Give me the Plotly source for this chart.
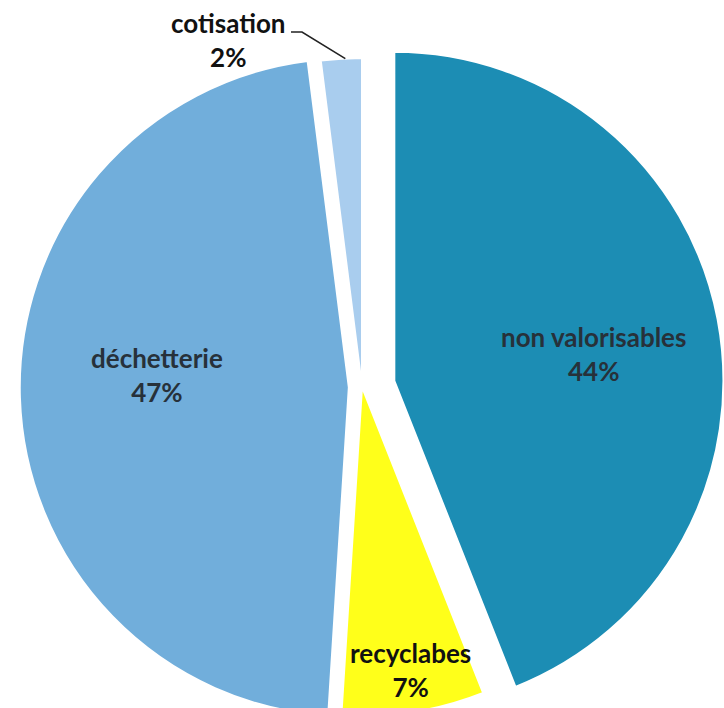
import numpy as np
import plotly.graph_objects as go

# ---- data ----
labels = ["non valorisables", "recyclabes", "déchetterie", "cotisation"]
values = [44, 7, 47, 2]
colors = ["#1C8DB4", "#FFFF1A", "#71AEDB", "#A9CDEE"]
pulls = [0.10, 0.0, 0.04, 0.0]
text_colors = ["#27313a", "#111111", "#27313a", "#111111"]
# label block centres in px (layout)
label_px = [(593, 354), (410, 670), (157, 375), None]

W, H = 724, 760
D = 724            # pie box size in px
TOP = 25           # pie box top in px
FONT = "Lato, Carlito, sans-serif"

fig = go.Figure()
fig.add_trace(go.Pie(
    labels=labels,
    values=values,
    sort=False,
    direction="clockwise",
    rotation=0,
    pull=pulls,
    marker=dict(colors=colors, line=dict(color="white", width=2)),
    textinfo="none",
    hoverinfo="label+percent",
    showlegend=False,
    domain=dict(x=[0, D / W], y=[1 - (TOP + D) / H, 1 - TOP / H]),
))

vals = np.array(values, dtype=float)
pct = np.round(vals / vals.sum() * 100).astype(int)

for lab, p, pos, tc in zip(labels, pct, label_px, text_colors):
    if pos is None:
        continue
    fig.add_annotation(
        x=pos[0] / W, y=1 - pos[1] / H, xref="paper", yref="paper",
        text=f"<b>{lab}<br>{p}%</b>", showarrow=False,
        xanchor="center", yanchor="middle", align="center",
        font=dict(family=FONT, size=26, color=tc),
    )

# leader label for the small slice, tip computed from the data
cum = np.cumsum(vals) / vals.sum()
mid = (cum[3] - vals[3] / vals.sum() / 2) * 2 * np.pi
R = D / (2 + 2 * max(pulls))
cx, cy = D / 2, TOP + D / 2
tipx = cx + R * np.sin(mid) + 4
tipy = cy - R * np.cos(mid)

lab_x, lab_y = 228, 40
fig.add_annotation(
    x=lab_x / W, y=1 - lab_y / H, xref="paper", yref="paper",
    text=f"<b>{labels[3]}<br>{pct[3]}%</b>", showarrow=False,
    xanchor="center", yanchor="middle", align="center",
    font=dict(family=FONT, size=26, color=text_colors[3]),
)
elbow = [(291, 32), (302, 32), (tipx, tipy)]
path = "M " + " L ".join(f"{x / W:.5f},{1 - y / H:.5f}" for x, y in elbow)
fig.add_shape(type="path", path=path, xref="paper", yref="paper",
              line=dict(color="#222", width=1.6))

fig.update_layout(
    width=W, height=H,
    margin=dict(l=0, r=0, t=0, b=0),
    paper_bgcolor="white", plot_bgcolor="white",
)

fig.write_html("out.html", config={"displayModeBar": False},
               post_script="document.body.style.overflow='hidden';document.documentElement.style.overflow='hidden';")
